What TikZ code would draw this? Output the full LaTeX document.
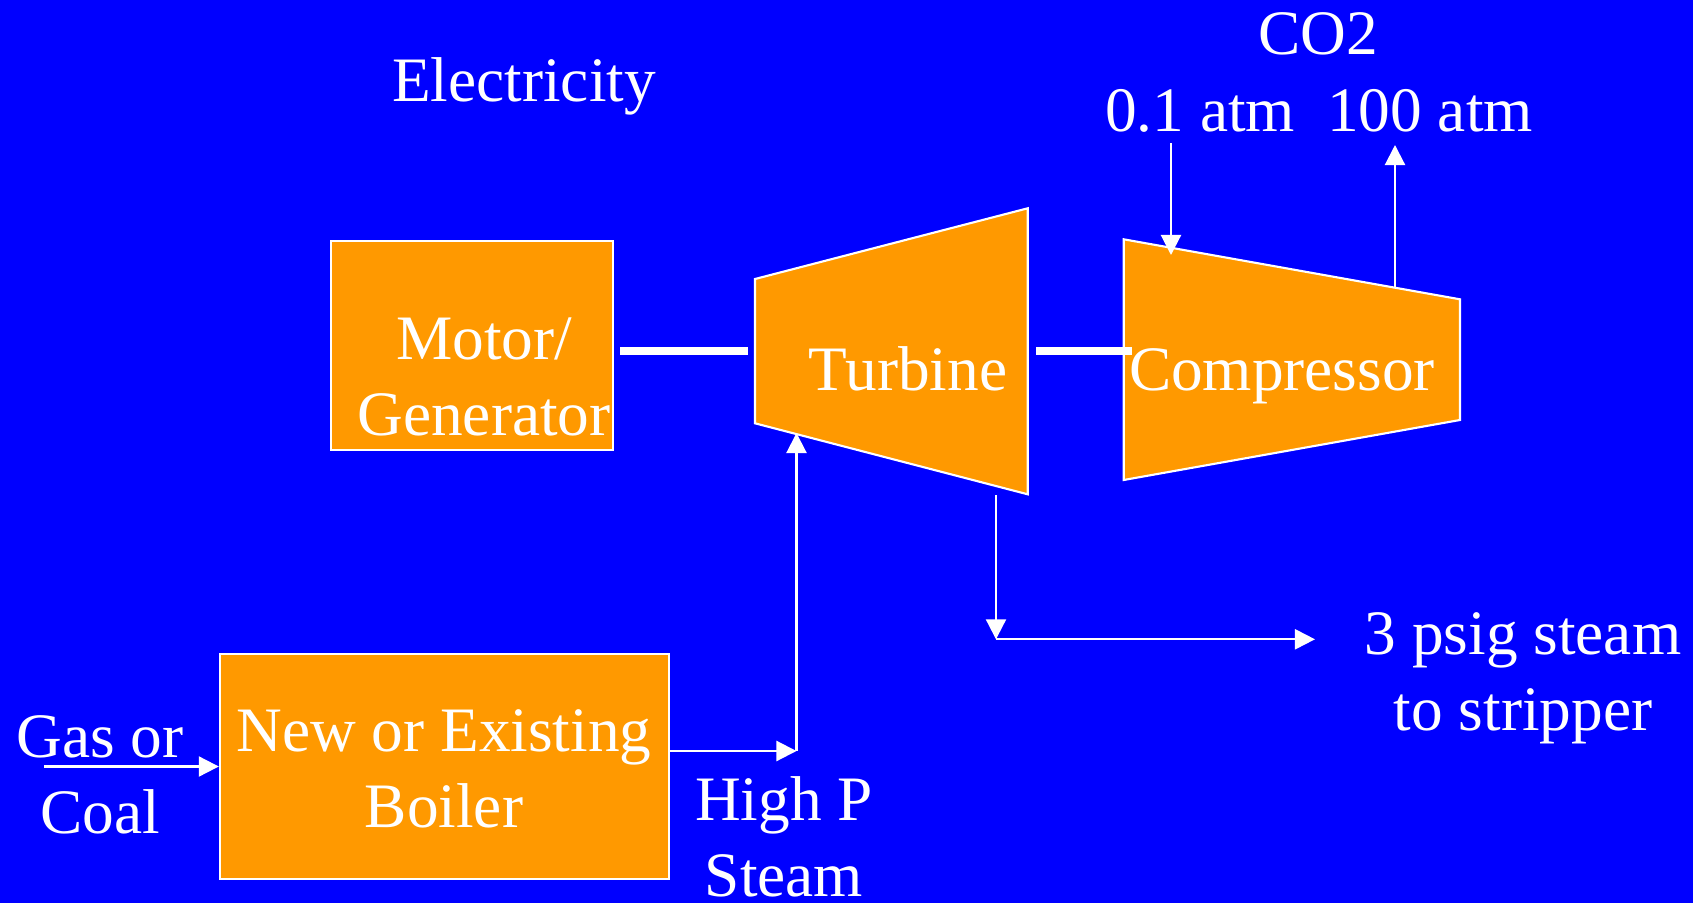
\documentclass[tikz,border=0pt]{standalone}
\usepackage{fontspec}
\setmainfont{Liberation Serif}
\usetikzlibrary{arrows.meta}
\definecolor{slideblue}{RGB}{0,0,255}
\definecolor{unitorange}{RGB}{255,153,0}
\pgfdeclarelayer{bg}
\pgfsetlayers{bg,main}

\begin{document}
\begin{tikzpicture}[x=0.01cm, y=-0.01cm, >={Triangle[length=0.2cm,width=0.2cm]},
		font=\fontsize{18}{21.6}\selectfont,
		unit/.style={draw=white, line width=0.6pt, fill=unitorange},
		flow/.style={->, white, line width=0.6pt},
		shaft/.style={white, line width=0.08cm},
		lbl/.style={text=white, align=center, anchor=base, inner sep=0pt}]
				%Hintergrund
				\fill[slideblue] (0,0) rectangle (1693,903);
				\useasboundingbox (0,0) rectangle (1693,903);
				% Bloecke zeichnen
				\node[unit, minimum width=2.81cm, minimum height=2.09cm] (motor) at (472,345.5) {};
				\node[unit, minimum width=4.49cm, minimum height=2.25cm] (boiler) at (444.5,766.5) {};
				\draw[unit] (755,279) coordinate (tb-tl) -- (1027.7,208.3) coordinate (tb-tr)
					-- (1027.7,494.3) coordinate (tb-br) -- (755,423.3) coordinate (tb-bl) -- cycle;
				\draw[unit] (1123.7,239.3) coordinate (cp-tl) -- (1460,299.3) coordinate (cp-tr)
					-- (1460,420) coordinate (cp-br) -- (1123.7,480) coordinate (cp-bl) -- cycle;
				% Beschriftung (mehrzeilig: Grundlinie der letzten Zeile)
				\node[lbl] (elec) at (524,101.7) {Electricity};
				\node[lbl] (motortxt) at (484,435) {Motor/\\Generator};
				\node[lbl] (turbtxt) at (908,390) {Turbine};
				\node[lbl] (comptxt) at (1282,390) {Compressor};
				\node[lbl] (co2) at (1318,54.3) {CO2};
				\node[lbl] (co2lo) at (1200,131) {0.1 atm};
				\node[lbl] (co2hi) at (1430,131) {100 atm};
				\node[lbl] (fuel) at (100,833) {Gas or\\Coal};
				\node[lbl] (boilertxt) at (444,827) {New or Existing\\Boiler};
				\node[lbl] (hpsteam) at (784,896.7) {High P\\Steam};
				\node[lbl] (lpsteam) at (1523,730.7) {3 psig steam\\to stripper};
				% Wellen
				\coordinate (sh1a) at (620,351);
				\coordinate (sh1b) at (748,351);
				\coordinate (sh2a) at (1036,351);
				\coordinate (sh2b) at (1131.7,351);
				\draw[shaft] (sh1a) -- (sh1b);
				\draw[shaft] (sh2a) -- (sh2b);
				% Stroeme
				\coordinate (elecin) at (515,127);
				\begin{pgfonlayer}{bg}
					\draw[flow] (elecin) -- (515,256);
				\end{pgfonlayer}
				\coordinate (co2in) at (1171,143);
				\coordinate (co2inend) at (1171,255);
				\coordinate (co2out) at (1395,286.7);
				\coordinate (co2outend) at (1395,145);
				\draw[flow] (co2in) -- (co2inend);
				\draw[flow] (co2out) -- (co2outend);
				\coordinate (fuelin) at (44,766.5);
				\draw[flow] (fuelin) -- (boiler.west);
				\coordinate (hp) at (796.5,751);
				\coordinate (tb-in) at (796.5,433);
				\draw[flow] (boiler.east |- hp) -- (hp);
				\draw[flow] (hp) -- (tb-in);
				\coordinate (tb-out) at (996,495);
				\coordinate (ex) at (996,639.3);
				\coordinate (strip) at (1315,639.3);
				\draw[flow] (tb-out) -- (ex);
				\draw[flow] (ex) -- (strip);
		\end{tikzpicture}
\end{document}
